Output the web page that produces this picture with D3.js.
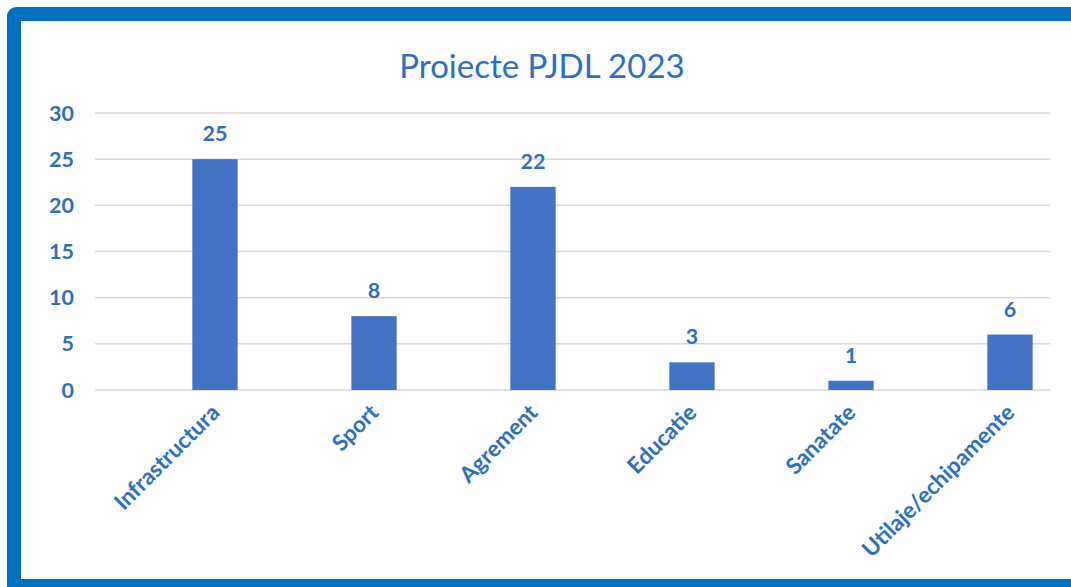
<!DOCTYPE html>
<html>
<head>
<meta charset="utf-8">
<script src="https://cdn.jsdelivr.net/npm/d3@7"></script>
<style>
  html, body { margin: 0; padding: 0; background: #fff; }
  svg { display: block; }
  text { font-family: Lato, "Open Sans", sans-serif; }
</style>
</head>
<body>
<svg id="chart"></svg>
<script>
const categories = ["Infrastructura", "Sport", "Agrement", "Educatie", "Sanatate", "Utilaje/echipamente"];
const values = [25, 8, 22, 3, 1, 6];
const yTicks = [0, 5, 10, 15, 20, 25, 30];
const title = "Proiecte PJDL 2023";

const width = 1071, height = 587;
const textColor = "#2C6FC2";
const barColor = "#4472C4";

const svg = d3.select("#chart")
    .attr("width", width)
    .attr("height", height);

// frame (right edge is cut off in the original)
svg.append("rect")
    .attr("x", 7).attr("y", 7)
    .attr("width", 1120).attr("height", 620)
    .attr("rx", 9)
    .attr("fill", "#0070C0");
svg.append("rect")
    .attr("x", 21).attr("y", 21)
    .attr("width", 1100).attr("height", 558)
    .attr("fill", "#fff");

svg.append("text")
    .attr("x", 542).attr("y", 78)
    .attr("text-anchor", "middle")
    .attr("font-size", 33)
    .attr("fill", textColor)
    .text(title);

const yScale = d3.scaleLinear().domain([0, 30]).range([390, 113]);
const xScale = d3.scaleBand()
    .domain(categories)
    .range([135.5, 1089.5])
    .paddingInner(0.715)
    .paddingOuter(0.3575);

// gridlines
svg.append("g")
    .selectAll("line")
    .data(yTicks)
    .enter()
    .append("line")
    .attr("x1", 95).attr("x2", 1050)
    .attr("y1", d => yScale(d)).attr("y2", d => yScale(d))
    .attr("stroke", "#D9D9D9")
    .attr("stroke-width", 1.5);

// y labels
svg.append("g")
    .selectAll("text")
    .data(yTicks)
    .enter()
    .append("text")
    .attr("x", 74)
    .attr("y", d => yScale(d) + 7.5)
    .attr("text-anchor", "end")
    .attr("font-size", 21.5)
    .attr("font-weight", "bold")
    .attr("fill", textColor)
    .text(d => d);

svg.append("g")
    .selectAll("rect")
    .data(values)
    .enter()
    .append("rect")
    .attr("x", (d, i) => xScale(categories[i]))
    .attr("y", d => yScale(d))
    .attr("width", xScale.bandwidth())
    .attr("height", d => yScale(0) - yScale(d))
    .attr("fill", barColor);

svg.append("g")
    .selectAll("text")
    .data(values)
    .enter()
    .append("text")
    .attr("x", (d, i) => xScale(categories[i]) + xScale.bandwidth() / 2)
    .attr("y", d => yScale(d) - 18)
    .attr("text-anchor", "middle")
    .attr("font-size", 21.5)
    .attr("font-weight", "bold")
    .attr("fill", textColor)
    .text(d => d);

// rotated category labels
svg.append("g")
    .selectAll("text")
    .data(categories)
    .enter()
    .append("text")
    .attr("transform", d => `translate(${xScale(d) + xScale.bandwidth() / 2 + 6},${414}) rotate(-45)`)
    .attr("text-anchor", "end")
    .attr("font-size", 22.5)
    .attr("font-weight", "bold")
    .attr("fill", textColor)
    .text(d => d);
</script>
</body>
</html>
